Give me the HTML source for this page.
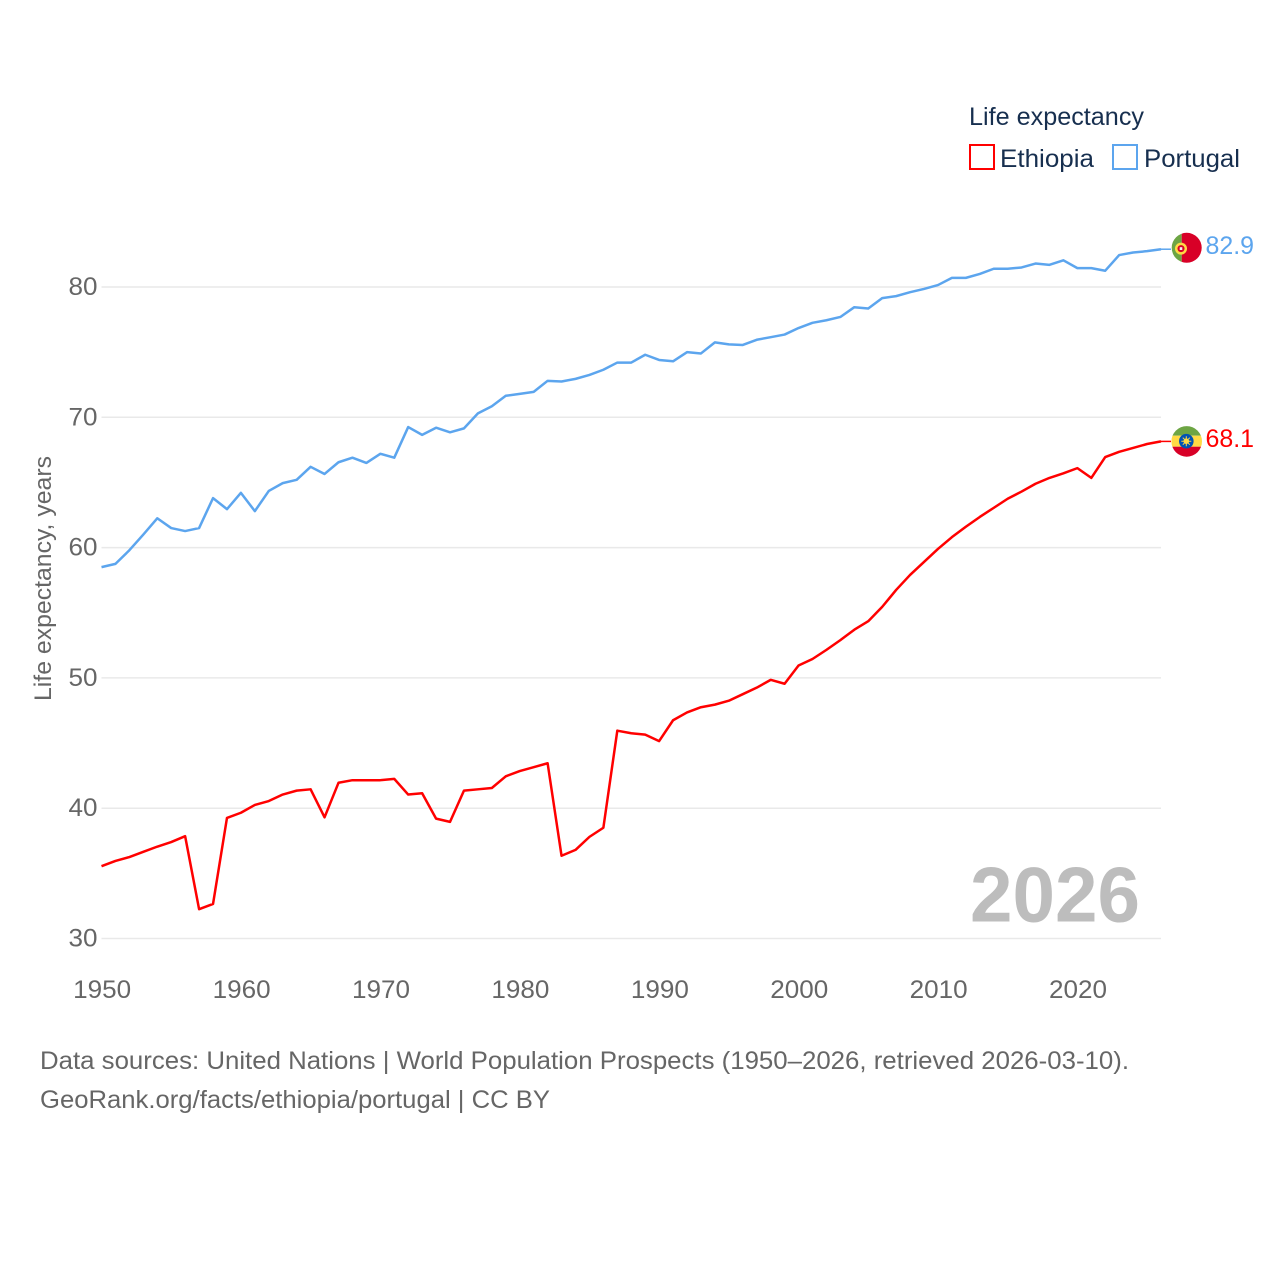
<!DOCTYPE html>
<html lang="en">
<head>
<meta charset="utf-8">
<title>Life expectancy: Ethiopia and Portugal</title>
<style>
html,body{margin:0;padding:0;background:#fff;width:1280px;height:1280px;overflow:hidden}
svg{display:block}
text{font-family:"Liberation Sans",sans-serif}
</style>
</head>
<body>
<svg id="chart" xmlns="http://www.w3.org/2000/svg" width="1280" height="1280" viewBox="0 0 1280 1280">
  <g id="grid"></g>
  <g id="yticks"></g>
  <g id="xticks"></g>
  <text transform="translate(51,701) rotate(-90)" font-size="24" fill="#666" textLength="245" lengthAdjust="spacingAndGlyphs">Life expectancy, years</text>
  <text x="970" y="921.5" font-size="78" font-weight="bold" fill="#bdbdbd" textLength="170" lengthAdjust="spacingAndGlyphs">2026</text>
  <g id="series"></g>

  <g>
    <clipPath id="clip-pt"><circle cx="1186.7" cy="247.8" r="15"/></clipPath>
    <g clip-path="url(#clip-pt)">
      <rect x="1171" y="232" width="10.7" height="32" fill="#6da544"/>
      <rect x="1181.7" y="232" width="21" height="32" fill="#d80027"/>
      <circle cx="1181" cy="248.6" r="6" fill="#ffda44"/>
      <circle cx="1181" cy="248.6" r="3.5" fill="#d80027"/>
      <rect x="1179.7" y="247.2" width="2.6" height="2.8" fill="#f0f0f0"/>
    </g>
  </g>
  <g>
    <clipPath id="clip-et"><circle cx="1186.7" cy="441.4" r="15.3"/></clipPath>
    <g clip-path="url(#clip-et)">
      <rect x="1171" y="425" width="32" height="10.7" fill="#6da544"/>
      <rect x="1171" y="435.7" width="32" height="11" fill="#ffda44"/>
      <rect x="1171" y="446.7" width="32" height="11" fill="#d80027"/>
      <circle cx="1186.3" cy="441.2" r="7.3" fill="#0052b4"/>
      <circle cx="1186.3" cy="441.2" r="2.8" fill="#ffda44"/>
      <path d="M1181.3 441.2h10M1186.3 436.2v10M1182.8 437.7l7 7M1189.8 437.7l-7 7" stroke="#ffda44" stroke-width="1" fill="none"/>
    </g>
  </g>

  <g id="end-labels"></g>

  <g>
    <text x="969" y="125" font-size="25" fill="#172f4f" textLength="175" lengthAdjust="spacingAndGlyphs">Life expectancy</text>
    <g>
      <rect x="970" y="145" width="24" height="24" fill="none" stroke="#ff0000" stroke-width="2"/>
      <text x="1000" y="167" font-size="25" fill="#172f4f" textLength="94" lengthAdjust="spacingAndGlyphs">Ethiopia</text>
    </g>
    <g>
      <rect x="1113" y="145" width="24" height="24" fill="none" stroke="#5ca5ee" stroke-width="2"/>
      <text x="1144" y="167" font-size="25" fill="#172f4f" textLength="96" lengthAdjust="spacingAndGlyphs">Portugal</text>
    </g>
  </g>

  <g>
    <text x="40" y="1069" font-size="25" fill="#666" textLength="1089" lengthAdjust="spacingAndGlyphs">Data sources: United Nations | World Population Prospects (1950–2026, retrieved 2026-03-10).</text>
    <text x="40" y="1108" font-size="25" fill="#666" textLength="510" lengthAdjust="spacingAndGlyphs">GeoRank.org/facts/ethiopia/portugal | CC BY</text>
  </g>
</svg>
<script>
const startYear = 1950;
const yTicks = [30, 40, 50, 60, 70, 80];
const xTicks = [1950, 1960, 1970, 1980, 1990, 2000, 2010, 2020];
const portugalValues = [
  58.5, 58.75, 59.8, 61.0, 62.25, 61.5, 61.27, 61.5, 63.8, 62.95,
  64.2, 62.8, 64.35, 64.95, 65.2, 66.2, 65.65, 66.55, 66.9, 66.5,
  67.2, 66.9, 69.25, 68.65, 69.2, 68.85, 69.15, 70.3, 70.85, 71.65,
  71.8, 71.95, 72.8, 72.75, 72.95, 73.25, 73.65, 74.2, 74.2, 74.8,
  74.4, 74.3, 75.0, 74.9, 75.75, 75.6, 75.55, 75.95, 76.15, 76.35,
  76.85, 77.25, 77.45, 77.7, 78.45, 78.35, 79.15, 79.3, 79.6, 79.85,
  80.15, 80.7, 80.7, 81.0, 81.4, 81.4, 81.5, 81.8, 81.7, 82.05,
  81.45, 81.45, 81.25, 82.45, 82.65, 82.75, 82.9
];
const ethiopiaValues = [
  35.55, 35.95, 36.25, 36.65, 37.05, 37.4, 37.85, 32.25, 32.65, 39.25,
  39.65, 40.25, 40.55, 41.05, 41.35, 41.45, 39.3, 41.95, 42.15, 42.15,
  42.15, 42.25, 41.05, 41.15, 39.2, 38.95, 41.35, 41.45, 41.55, 42.45,
  42.85, 43.15, 43.45, 36.35, 36.8, 37.8, 38.5, 45.95, 45.75, 45.65,
  45.15, 46.75, 47.35, 47.75, 47.95, 48.25, 48.75, 49.25, 49.85, 49.55,
  50.95, 51.45, 52.15, 52.9, 53.7, 54.35, 55.45, 56.75, 57.9, 58.9,
  59.9, 60.8, 61.6, 62.35, 63.05, 63.75, 64.3, 64.9, 65.35, 65.7,
  66.1, 65.35, 66.95, 67.35, 67.65, 67.95, 68.15
];
const portugalLabel = "82.9";
const ethiopiaLabel = "68.1";

const NS = "http://www.w3.org/2000/svg";
function xScale(year) { return 101.5 + (year - 1950) * (1161 - 101.5) / 76; }
function yScale(v) { return 938.5 - (v - 30) * (938.5 - 287) / 50; }

function svgEl(tag, attrs, text) {
  const el = document.createElementNS(NS, tag);
  for (const k in attrs) el.setAttribute(k, attrs[k]);
  if (text !== undefined) el.textContent = text;
  return el;
}

const gridG = document.getElementById("grid");
const yG = document.getElementById("yticks");
yTicks.forEach(function (t) {
  const line = svgEl("line", { x1: xScale(1950), x2: xScale(2026), y1: yScale(t), y2: yScale(t), stroke: "#e9e9e9", "stroke-width": 1.5 });
  
  
  gridG.appendChild(line);
  const label = svgEl("text", { x: 97.5, y: yScale(t) + 8, "text-anchor": "end", "font-size": 25, fill: "#666", textLength: 29, lengthAdjust: "spacingAndGlyphs" }, String(t));
  
  
  yG.appendChild(label);
});

const xG = document.getElementById("xticks");
xTicks.forEach(function (t) {
  const label = svgEl("text", { x: xScale(t) + 0.7, y: 998, "text-anchor": "middle", "font-size": 25, fill: "#666", textLength: 58, lengthAdjust: "spacingAndGlyphs" }, String(t));
  
  
  xG.appendChild(label);
});

function pathFor(values) {
  return values.map(function (v, i) {
    return (i ? "L" : "M") + xScale(startYear + i).toFixed(2) + " " + yScale(v).toFixed(2);
  }).join("");
}

const seriesG = document.getElementById("series");
const endG = document.getElementById("end-labels");

const portugalLine = svgEl("path", { d: pathFor(portugalValues), fill: "none", stroke: "#5ca5ee", "stroke-width": 2.5, "stroke-linejoin": "round" });


seriesG.appendChild(portugalLine);

const ethiopiaLine = svgEl("path", { d: pathFor(ethiopiaValues), fill: "none", stroke: "#ff0000", "stroke-width": 2.5, "stroke-linejoin": "round" });


seriesG.appendChild(ethiopiaLine);

const lastPt = portugalValues[portugalValues.length - 1];
const lastEt = ethiopiaValues[ethiopiaValues.length - 1];
const lastX = xScale(startYear + portugalValues.length - 1);

const connPt = svgEl("line", { x1: lastX, x2: lastX + 10, y1: yScale(lastPt), y2: yScale(lastPt), stroke: "#5ca5ee", "stroke-width": 1.5 });


seriesG.appendChild(connPt);

const connEt = svgEl("line", { x1: lastX, x2: lastX + 10, y1: yScale(lastEt), y2: yScale(lastEt), stroke: "#ff0000", "stroke-width": 1.5 });


seriesG.appendChild(connEt);

const labelPt = svgEl("text", { x: 1205.5, y: 254, "font-size": 25, fill: "#5ca5ee", textLength: 48.5, lengthAdjust: "spacingAndGlyphs" }, portugalLabel);


endG.appendChild(labelPt);

const labelEt = svgEl("text", { x: 1205.5, y: 447, "font-size": 25, fill: "#ff0000", textLength: 48.5, lengthAdjust: "spacingAndGlyphs" }, ethiopiaLabel);


endG.appendChild(labelEt);
</script>
</body>
</html>
